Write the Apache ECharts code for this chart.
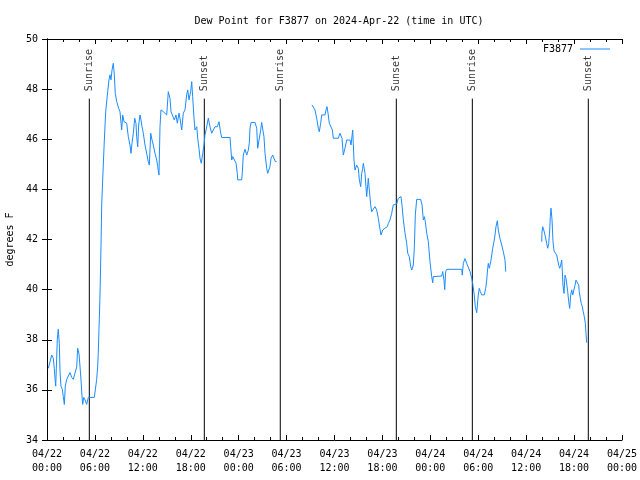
<!DOCTYPE html>
<html>
<head>
<meta charset="utf-8">
<script src="https://cdn.jsdelivr.net/npm/echarts@6/dist/echarts.min.js"></script>
<style>html,body{margin:0;padding:0;background:#fff}#c{width:640px;height:480px}</style>
</head>
<body>
<div id="c"></div>
<script>
// Hours since 2024-04-22 00:00 UTC
const hours = [
0.16,0.38,0.59,0.79,0.91,1.0,1.09,1.21,1.29,1.41,1.54,1.63,1.75,1.92,2.04,2.17,2.29,2.47,2.67,2.88,3.09,3.29,3.51,3.72,3.84,4.01,4.13,4.26,4.38,4.47,4.6,4.76,4.97,5.17,5.38,5.92,6.05,6.22,6.35,6.42,6.51,6.55,6.62,6.66,6.76,6.85,6.97,7.18,7.35,7.6,7.76,7.89,8.01,8.14,8.3,8.43,8.55,8.73,8.85,8.98,9.14,9.27,9.35,9.48,9.64,9.8,9.98,10.18,10.39,10.52,10.64,10.81,10.98,11.14,11.23,11.36,11.48,11.65,11.77,11.9,12.06,12.27,12.48,12.68,12.81,12.99,13.15,13.31,13.52,13.74,13.86,14.02,14.15,14.27,14.56,14.99,15.19,15.4,15.53,15.74,15.94,16.15,16.32,16.53,16.65,16.87,17.07,17.28,17.49,17.62,17.78,17.99,18.12,18.24,18.41,18.53,18.75,18.87,19.03,19.16,19.32,19.5,19.66,19.78,20.0,20.2,20.41,20.62,20.82,21.04,21.32,21.54,21.75,21.88,22.92,23.0,23.13,23.26,23.45,23.67,23.83,23.88,24.38,24.45,24.58,24.79,25.01,25.21,25.33,25.42,25.55,26.05,26.26,26.38,26.58,26.76,26.88,27.09,27.17,27.3,27.51,27.64,27.84,27.92,28.05,28.26,28.42,28.59,28.76,
31.0,
33.18,33.35,33.56,33.77,33.97,34.1,34.27,34.4,34.81,34.94,35.06,35.19,35.35,35.56,35.73,35.85,36.48,36.69,36.85,36.94,37.1,37.31,37.53,37.73,37.94,38.07,38.28,38.35,38.44,38.57,38.78,38.98,39.11,39.28,39.41,39.53,39.61,39.69,39.82,39.94,40.03,40.16,40.23,40.36,40.53,40.66,40.86,41.07,41.28,41.49,41.61,41.82,42.04,42.32,42.61,42.74,42.95,43.16,43.36,43.79,43.99,44.2,44.33,44.45,44.62,44.83,45.04,45.17,45.37,45.54,45.67,45.87,46.0,46.12,46.29,46.79,46.96,47.12,47.25,47.37,47.55,47.75,47.96,48.17,48.3,48.37,49.42,49.55,49.71,49.8,49.92,50.05,51.93,52.0,52.13,52.34,52.55,52.75,52.97,53.18,53.3,53.5,53.63,53.81,53.93,54.0,54.13,54.26,54.43,54.76,54.93,55.06,55.18,55.26,55.38,55.56,55.69,55.81,55.97,56.1,56.22,56.39,56.51,56.72,56.94,57.14,57.35,57.44,
59.5,
61.95,61.97,62.07,62.2,62.36,62.57,62.7,62.82,62.95,63.02,63.11,63.24,63.36,63.49,63.74,63.82,63.95,64.07,64.2,64.32,64.45,64.52,64.61,64.74,64.86,64.99,65.2,65.33,65.45,65.58,65.7,65.83,65.99,66.12,66.24,66.45,66.58,66.65,66.78,66.9,67.03,67.15,67.28,67.41,67.49,67.58
];
const dewF = [
36.86,37.12,37.39,37.26,36.86,36.46,36.15,37.26,38.02,38.42,37.86,36.72,36.15,36.02,35.73,35.42,36.15,36.42,36.45,36.69,36.5,36.42,36.45,36.92,37.66,37.43,36.95,36.39,35.76,35.42,35.7,35.6,35.42,35.7,35.7,35.7,36.0,36.42,36.95,37.46,38.46,38.8,39.6,40.12,41.74,43.38,44.37,45.97,47.1,47.9,48.37,48.57,48.37,48.76,49.03,48.57,47.83,47.5,47.37,47.23,47.1,46.64,46.37,46.97,46.7,46.64,46.64,46.1,45.77,45.44,45.84,46.24,46.84,46.64,46.1,45.7,46.57,46.97,46.77,46.5,46.24,45.77,45.44,45.11,44.97,46.24,45.97,45.77,45.44,45.17,44.91,44.57,46.5,47.17,47.1,46.97,47.9,47.63,47.1,47.04,46.77,46.97,46.64,47.04,46.84,46.37,47.04,47.17,47.77,47.97,47.57,47.9,48.3,47.7,46.84,46.37,46.5,46.04,45.64,45.24,45.04,45.44,45.77,46.17,46.5,46.84,46.5,46.24,46.37,46.5,46.5,46.7,46.24,46.07,46.07,45.7,45.17,45.31,45.31,45.04,44.64,44.38,44.38,44.64,45.37,45.6,45.37,45.57,45.84,46.44,46.67,46.67,46.44,45.64,45.64,46.37,46.67,46.67,46.1,45.44,44.84,44.64,44.64,44.91,45.24,45.37,45.31,45.11,45.11,
null,
47.37,47.3,47.17,46.84,46.44,46.3,46.64,46.97,46.97,47.17,47.3,47.04,46.64,46.57,46.37,46.04,46.04,46.24,46.3,46.04,45.37,45.64,45.97,46.04,45.97,45.77,46.37,45.84,45.17,44.77,44.97,44.84,44.38,44.11,44.64,44.84,45.04,44.97,44.64,44.11,43.71,44.18,44.44,43.98,43.38,43.11,43.11,43.31,43.18,42.84,42.58,42.18,42.38,42.45,42.51,42.64,42.78,43.04,43.38,43.42,43.64,43.71,43.71,43.38,42.78,42.25,41.84,41.45,41.31,40.92,40.78,40.98,41.71,42.98,43.6,43.6,43.38,42.78,42.91,42.71,42.25,41.91,41.11,40.52,40.27,40.52,40.54,40.72,40.38,40.0,40.72,40.81,40.81,40.58,41.05,41.24,41.05,40.98,40.72,40.45,40.25,39.79,39.32,39.08,39.08,39.79,40.05,39.92,39.79,39.79,40.05,40.38,40.85,41.05,40.85,41.11,41.38,41.65,41.91,42.18,42.51,42.75,42.38,42.04,41.78,41.51,41.18,40.72,
null,
41.91,42.25,42.51,42.38,42.18,41.84,41.65,41.84,42.38,42.91,43.25,42.78,41.91,41.54,41.54,41.38,41.18,40.98,40.85,40.98,41.18,40.78,40.18,39.85,40.58,40.45,39.92,39.52,39.25,39.79,39.99,39.79,39.85,40.18,40.38,40.38,40.18,39.92,39.65,39.45,39.32,39.12,38.92,38.65,38.26,37.88
];
const sunNames = ['Sunrise','Sunset','Sunrise','Sunset','Sunrise','Sunset'];
const sunHours = [5.30, 19.70, 29.21, 43.74, 53.26, 67.78];
const yTicks = [34,36,38,40,42,44,46,48,50];
const sunLineTop = 47.62;
const sunLabelBase = 47.92;

const FONT = 'DejaVu Sans Mono';
const lineData = hours.map((h,i)=>[h, dewF[i]===null ? '-' : dewF[i]]);

const series = [{
  name: 'F3877', type: 'line', data: lineData, symbol: 'none', showSymbol: false,
  connectNulls: false, lineStyle: { color: '#1a8cff', width: 1 }, itemStyle: { color: '#1a8cff' },
  z: 3, animation: false
}];
sunHours.forEach((h,i)=>{
  series.push({
    type: 'line', data: [[h, yTicks[0]], [h, sunLineTop]], symbol: 'none',
    lineStyle: { color: '#000', width: 1 }, silent: true, z: 2, animation: false
  });
});
series.push({
  type: 'scatter', symbolSize: 0, silent: true, animation: false,
  data: sunHours.map((h,i)=>({ value: [h, sunLabelBase], name: sunNames[i] })),
  label: { show: true, position: 'inside', rotate: 90, align: 'left', verticalAlign: 'middle',
    formatter: p => p.name, fontFamily: FONT, fontSize: 10, color: '#000' }
});

function fmtX(v){
  const d = 22 + Math.floor(v/24);
  const hh = v % 24;
  return '04/' + String(d).padStart(2,'0') + '\n' + String(hh).padStart(2,'0') + ':00';
}
const axisCommon = {
  type: 'value', min: 0, max: 72, interval: 6,
  axisLine: { show: true, lineStyle: { color: '#000', width: 1 } },
  axisTick: { show: true, inside: true, length: 5, lineStyle: { color: '#000' } },
  minorTick: { show: true, splitNumber: 3, length: 3, lineStyle: { color: '#000' } },
  splitLine: { show: false }, minorSplitLine: { show: false }
};
const chart = echarts.init(document.getElementById('c'), null, { renderer: 'canvas' });
chart.setOption({
  animation: false,
  backgroundColor: '#fff',
  title: { text: 'Dew Point for F3877 on 2024-Apr-22 (time in UTC)', left: 334, top: 11, textAlign: 'center',
    textStyle: { fontFamily: FONT, fontSize: 10, fontWeight: 'normal', color: '#000' } },
  legend: { data: [{ name: 'F3877', icon: 'rect' }], right: 30, top: 44, padding: 0, align: 'right', itemWidth: 30, itemHeight: 1,
    itemGap: 6, textStyle: { fontFamily: FONT, fontSize: 10, color: '#000', padding: [0,2,0,0] } },
  grid: { left: 47, right: 18, top: 39, bottom: 40, containLabel: false, outerBoundsMode: 'none' },
  xAxis: [
    Object.assign({}, axisCommon, { position: 'bottom',
      axisLabel: { formatter: fmtX, fontFamily: FONT, fontSize: 10, color: '#000', margin: 7, lineHeight: 14, showMinLabel: true, showMaxLabel: true } }),
    Object.assign({}, axisCommon, { position: 'top', axisLabel: { show: false } })
  ],
  yAxis: [
    { type: 'value', min: 34, max: 50, interval: 2, position: 'left',
      name: 'degrees F', nameLocation: 'middle', nameGap: 32, nameRotate: 90,
      nameTextStyle: { fontFamily: FONT, fontSize: 10, color: '#000' },
      axisLine: { show: true, lineStyle: { color: '#000' } },
      axisTick: { show: true, inside: true, length: 5, lineStyle: { color: '#000' } },
      axisLabel: { fontFamily: FONT, fontSize: 10, color: '#000', margin: 9 },
      splitLine: { show: false } },
    { type: 'value', min: 34, max: 50, interval: 2, position: 'right',
      axisLine: { show: true, lineStyle: { color: '#000' } },
      axisTick: { show: true, inside: true, length: 5, lineStyle: { color: '#000' } },
      axisLabel: { show: false }, splitLine: { show: false } }
  ],
  series: series
});
</script>
</body>
</html>
